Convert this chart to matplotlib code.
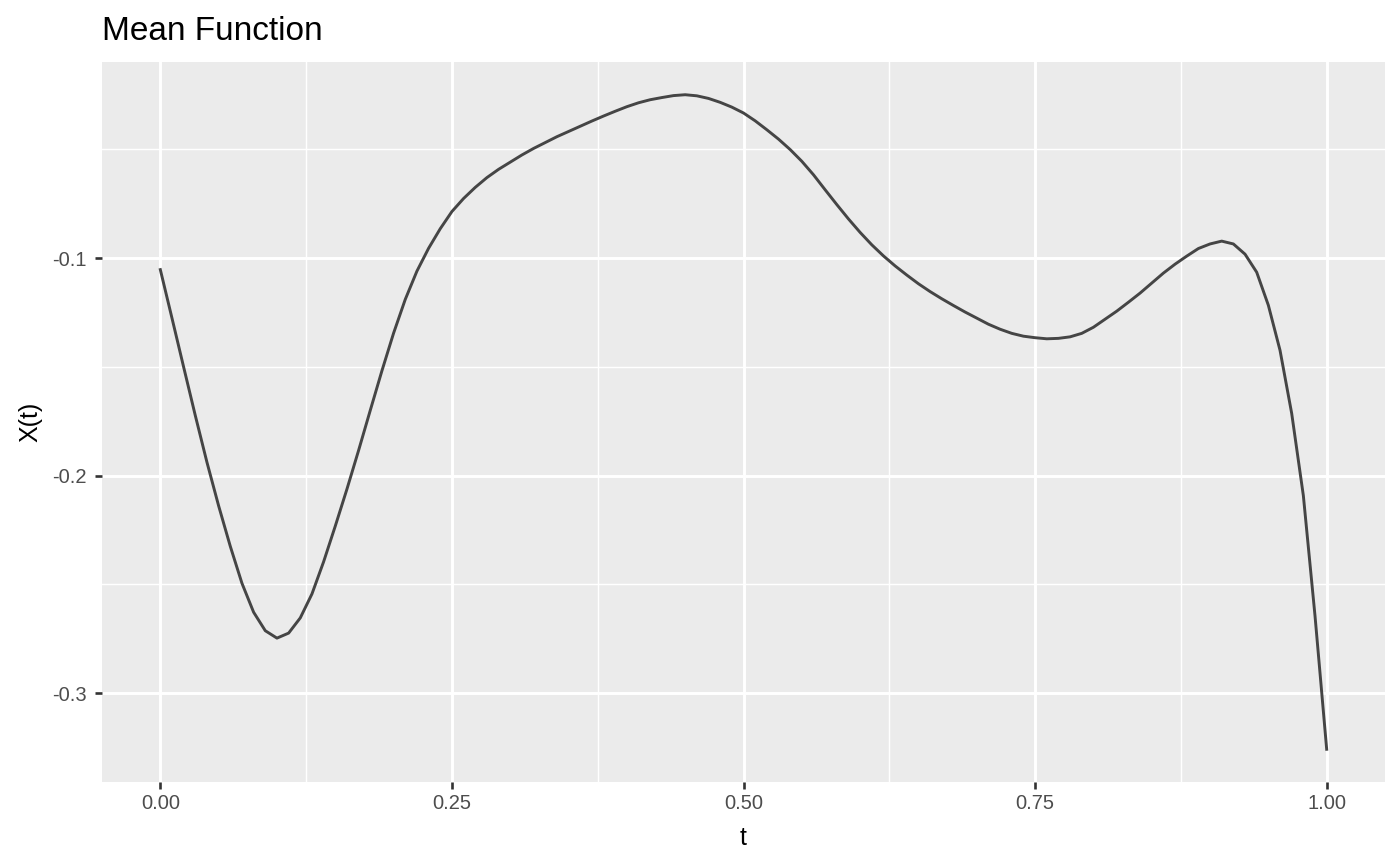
import numpy as np
import matplotlib
matplotlib.use("Agg")
import matplotlib.pyplot as plt

t = np.linspace(0, 1, 101)
mean_x = [
    -0.1053, -0.1276, -0.1501, -0.1724, -0.1939, -0.2139, -0.2325, -0.2495, -0.2628, -0.2713,
    -0.2747, -0.2724, -0.2654, -0.2544, -0.2396, -0.2232, -0.2062, -0.1884, -0.1700, -0.1518,
    -0.1345, -0.1190, -0.1060, -0.0955, -0.0865, -0.0786, -0.0726, -0.0675, -0.0630, -0.0592,
    -0.0559, -0.0526, -0.0496, -0.0469, -0.0442, -0.0418, -0.0394, -0.0370, -0.0347, -0.0325,
    -0.0304, -0.0286, -0.0272, -0.0262, -0.0253, -0.0249, -0.0254, -0.0266, -0.0284, -0.0306,
    -0.0333, -0.0369, -0.0410, -0.0453, -0.0501, -0.0555, -0.0617, -0.0686, -0.0754, -0.0820,
    -0.0882, -0.0939, -0.0990, -0.1036, -0.1078, -0.1118, -0.1154, -0.1187, -0.1218, -0.1248,
    -0.1276, -0.1304, -0.1327, -0.1346, -0.1359, -0.1366, -0.1371, -0.1369, -0.1362, -0.1346,
    -0.1318, -0.1281, -0.1244, -0.1203, -0.1161, -0.1115, -0.1069, -0.1028, -0.0991, -0.0956,
    -0.0935, -0.0922, -0.0935, -0.0982, -0.1065, -0.1217, -0.1424, -0.1714, -0.2092, -0.2645,
    -0.3258,
]

x_ticks = [0.0, 0.25, 0.5, 0.75, 1.0]
x_ticklabels = ["0.00", "0.25", "0.50", "0.75", "1.00"]
x_minor = [0.125, 0.375, 0.625, 0.875]
y_ticks = [-0.3, -0.2, -0.1]
y_ticklabels = ["-0.3", "-0.2", "-0.1"]
y_minor = [-0.25, -0.15, -0.05]

plt.rcParams["font.family"] = ["Liberation Sans", "DejaVu Sans"]

fig = plt.figure(figsize=(14, 8.66), dpi=100)
ax = fig.add_axes([102 / 1400, 1 - 782 / 866, (1385 - 102) / 1400, (782 - 62) / 866])
ax.set_facecolor("#EBEBEB")

# ggplot-like expansion of 5%
ymin, ymax = min(mean_x), max(mean_x)
yr = ymax - ymin
ax.set_xlim(-0.05, 1.05)
ax.set_ylim(ymin - 0.05 * yr, ymax + 0.05 * yr)

ax.set_xticks(x_ticks)
ax.set_xticklabels(x_ticklabels)
ax.set_xticks(x_minor, minor=True)
ax.set_yticks(y_ticks)
ax.set_yticklabels(y_ticklabels)
ax.set_yticks(y_minor, minor=True)

ax.grid(which="major", color="white", linewidth=2.1)
ax.grid(which="minor", color="white", linewidth=1.05)
ax.set_axisbelow(True)
for s in ax.spines.values():
    s.set_visible(False)

ax.tick_params(which="major", length=5.3, width=1.9, color="#333333",
               labelsize=14.5, labelcolor="#4D4D4D", pad=3.5)
ax.tick_params(axis="y", pad=6)
ax.tick_params(which="minor", length=0)

ax.plot(t, mean_x, color="#454545", linewidth=2.1)

ax.set_xlabel("t", fontsize=18, labelpad=9)
ax.set_ylabel("X(t)", fontsize=18, labelpad=7)
ax.set_title("Mean Function", loc="left", fontsize=24, pad=16)

fig.savefig("out.png", dpi=100)
